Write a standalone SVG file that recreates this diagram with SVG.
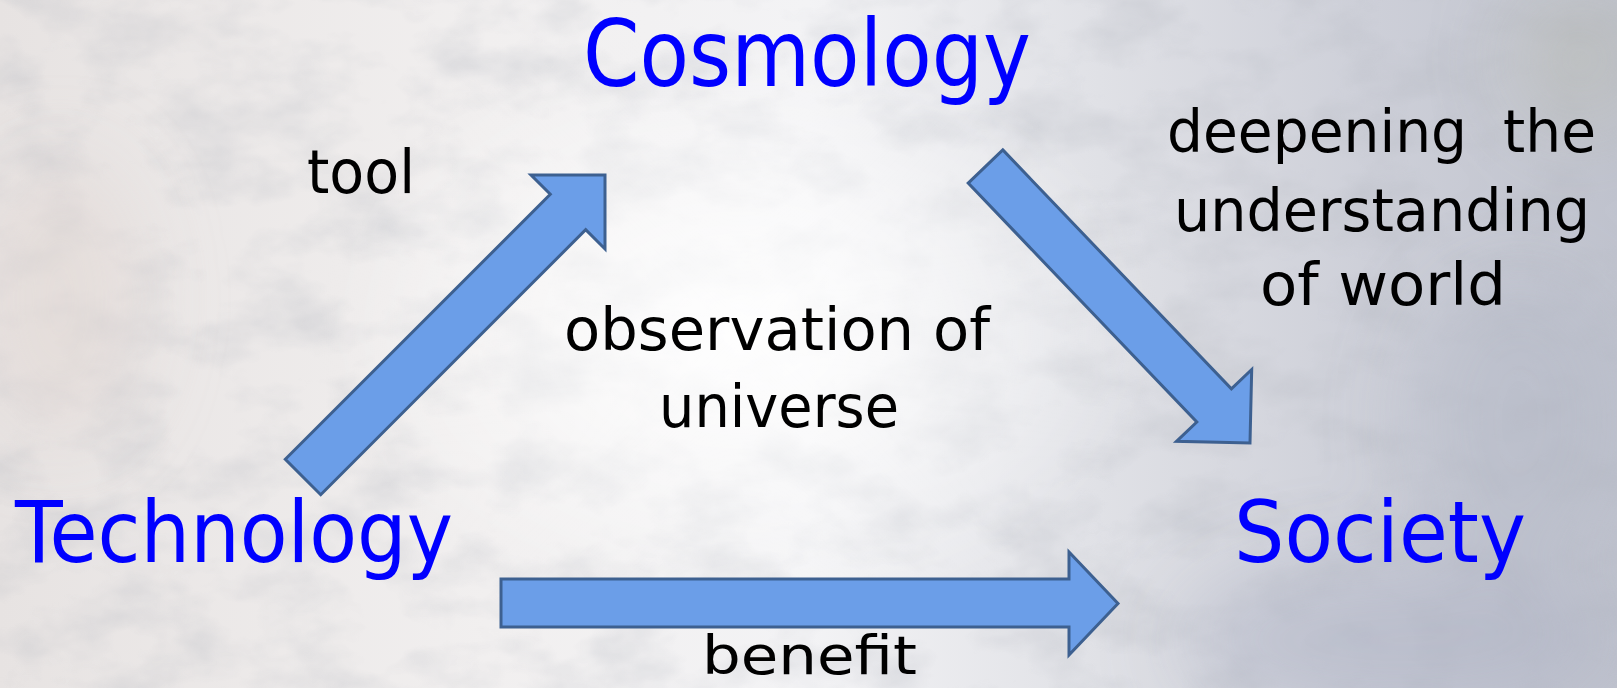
<svg xmlns="http://www.w3.org/2000/svg" width="1617" height="688" viewBox="0 0 1617 688">
<style>
.arrow{fill:#6b9ee8;stroke:#3d6090;stroke-width:3;stroke-linejoin:miter}
.title{font-family:"Comic Sans MS","DejaVu Sans",sans-serif;fill:#0000ff}
.label{font-family:"Comic Sans MS","DejaVu Sans",sans-serif;fill:#000000}
</style>
<defs>
<linearGradient id="bg" x1="0" y1="0" x2="1" y2="0">
<stop offset="0" stop-color="#e7e3e2"/>
<stop offset="0.3" stop-color="#f1efef"/>
<stop offset="0.5" stop-color="#f3f3f5"/>
<stop offset="0.68" stop-color="#e0e1e6"/>
<stop offset="0.85" stop-color="#cdcfd8"/>
<stop offset="1" stop-color="#c0c3ce"/>
</linearGradient>
<radialGradient id="glow" cx="0.5" cy="0.5" r="0.5">
<stop offset="0" stop-color="#ffffff" stop-opacity="0.95"/>
<stop offset="1" stop-color="#ffffff" stop-opacity="0"/>
</radialGradient>
<filter id="noise" x="0" y="0" width="100%" height="100%">
<feTurbulence type="fractalNoise" baseFrequency="0.012 0.02" numOctaves="4" seed="7" result="t"/>
<feColorMatrix type="matrix" values="0 0 0 0 0.45  0 0 0 0 0.47  0 0 0 0 0.52  0 0 0 1.1 -0.45" in="t"/>
</filter>
<filter id="blur"><feGaussianBlur stdDeviation="40"/></filter>
</defs>
<g id="background">
<rect x="0" y="0" width="1617" height="688" fill="url(#bg)"/>
<rect x="0" y="0" width="1617" height="688" filter="url(#noise)" opacity="0.6"/>
<g filter="url(#blur)">
<ellipse cx="1580" cy="60" rx="70" ry="70" fill="#b7b9aa" opacity="0.4"/>
<ellipse cx="1400" cy="640" rx="220" ry="80" fill="#a8aec2" opacity="0.45"/>
<ellipse cx="1520" cy="420" rx="110" ry="150" fill="#b0b4c3" opacity="0.4"/>
<ellipse cx="60" cy="300" rx="80" ry="140" fill="#e3d8d6" opacity="0.6"/>
</g>
<ellipse cx="740" cy="330" rx="420" ry="300" fill="url(#glow)"/>
</g>
<g id="connectors">
<polygon id="arrow-tool" class="arrow" points="285.3,459.3 550.3,194.3 531,175 605,175 605,249 585.7,229.7 320.7,494.7"/>
<polygon id="arrow-deepening" class="arrow" points="1002.8,149.9 1231.4,388.8 1251.7,369.5 1250,443 1176.5,441.3 1196.8,422.0 968.2,183.1"/>
<polygon id="arrow-benefit" class="arrow" points="501,579 1069,579 1069,552 1118,603.5 1069,655 1069,627 501,627"/>
</g>
<g id="node-cosmology">
<text class="title" x="583" y="86" font-size="92" textLength="448" lengthAdjust="spacingAndGlyphs">Cosmology</text>
</g>
<g id="node-technology">
<text class="title" x="15" y="562" font-size="86" textLength="438" lengthAdjust="spacingAndGlyphs">Technology</text>
</g>
<g id="node-society">
<text class="title" x="1234" y="562" font-size="86" textLength="292" lengthAdjust="spacingAndGlyphs">Society</text>
</g>
<g id="label-tool">
<text class="label" x="307" y="193" font-size="60" textLength="108" lengthAdjust="spacingAndGlyphs">tool</text>
</g>
<g id="label-observation">
<text class="label" x="564" y="350" font-size="58" textLength="426" lengthAdjust="spacingAndGlyphs">observation of</text>
<text class="label" x="659" y="427" font-size="58" textLength="240" lengthAdjust="spacingAndGlyphs">universe</text>
</g>
<g id="label-deepening">
<text class="label" x="1167" y="152" font-size="58" textLength="429" lengthAdjust="spacingAndGlyphs">deepening&#160; the</text>
<text class="label" x="1174" y="231" font-size="58" textLength="416" lengthAdjust="spacingAndGlyphs">understanding</text>
<text class="label" x="1260" y="305" font-size="58" textLength="246" lengthAdjust="spacingAndGlyphs">of world</text>
</g>
<g id="label-benefit">
<text class="label" x="702" y="674" font-size="54" textLength="215" lengthAdjust="spacingAndGlyphs">benefit</text>
</g>
</svg>
